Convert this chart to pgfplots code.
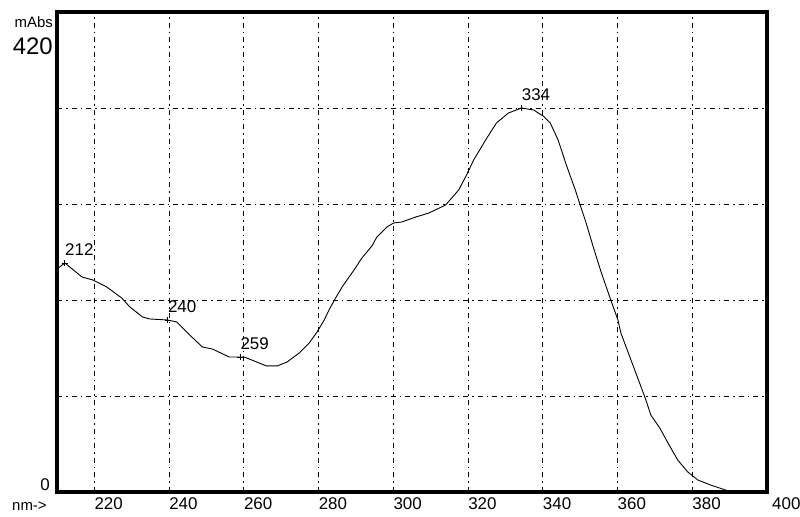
\documentclass[border=0pt]{standalone}
\usepackage{fontspec}
\setmainfont{Liberation Sans}
\usepackage{pgfplots}
\pgfplotsset{compat=1.18}
\begin{document}
\begin{tikzpicture}
\useasboundingbox (0bp,0bp) rectangle (800bp,517bp);
\begin{axis}[
  at={(57bp,25bp)}, anchor=south west,
  width=710bp, height=480bp, scale only axis,
  xmin=210, xmax=400, ymin=0, ymax=420,
  xtick={220,240,...,380},
  ytick={84,168,252,336},
  yticklabels={},
  major tick length=0pt,
  grid=major,
  grid style={black, line width=0.8bp, dash pattern=on 5bp off 4bp on 1.5bp off 4bp},
  axis line style={line width=3.2bp},
  /pgf/number format/assume math mode=true,
  xticklabel style={anchor=north west, inner sep=0pt, yshift=-5bp, font=\fontsize{17}{17}\selectfont},
  extra x ticks={400},
  extra x tick style={grid=none, xticklabel style={xshift=5bp}},
  clip=false,
]
\addplot[black, line width=0.9bp] coordinates {
(210.0,195.1) (212.1,200.4) (216.7,188.1) (219.6,185.5) (223.3,179.4)
(227.3,169.8) (229.5,161.9) (232.9,153.1) (234.8,151.4) (239.6,150.5)
(242.0,148.8) (245.5,137.4) (248.9,126.9) (251.6,125.1) (256.1,118.1)
(258.8,118.1) (260.1,118.1) (262.8,114.6) (266.0,110.3) (268.9,110.3)
(271.6,113.8) (274.8,121.6) (277.5,130.4) (279.6,140.0) (281.5,150.5)
(282.8,159.3) (284.7,170.6) (286.3,179.4) (289.5,194.3) (291.6,204.8)
(294.3,215.4) (295.6,223.1) (298.3,231.9) (300.1,235.4) (302.3,236.3)
(306.0,240.6) (309.5,244.1) (314.0,251.1) (317.5,264.3) (319.6,277.4)
(321.5,290.5) (324.7,308.0) (327.6,322.9) (330.8,331.6) (334.3,336.0)
(337.5,334.3) (340.1,329.0) (342.0,322.9) (344.1,308.0) (346.3,286.1)
(348.7,264.3) (350.0,251.1) (351.6,235.4) (353.5,214.4) (355.6,192.5)
(358.0,169.8) (360.1,150.5) (360.9,139.1) (363.6,115.5) (366.3,91.9)
(367.6,80.5) (368.9,67.4) (371.3,56.0) (373.5,42.9) (376.1,28.0)
(378.8,17.5) (381.5,10.5) (384.9,6.1) (388.9,1.75) (390.0,0)
};
\addplot[black, only marks, mark=+, mark size=3bp, mark options={line width=0.8bp},
  nodes near coords, point meta=explicit symbolic,
  nodes near coords style={anchor=south west, inner sep=0pt, yshift=7bp, font=\fontsize{17}{17}\selectfont}]
coordinates {
(212.1,200.4) [212]
(239.6,150.5) [240]
(259.0,118.1) [259]
(334.3,336.0) [334]
};
\end{axis}
\node[anchor=base east, inner sep=0pt, font=\fontsize{15}{15}\selectfont] at (53bp,489bp) {mAbs};
\node[anchor=base east, inner sep=0pt, font=\fontsize{24}{24}\selectfont] at (53bp,462bp) {420};
\node[anchor=base east, inner sep=0pt, font=\fontsize{17}{17}\selectfont] at (50bp,27bp) {0};
\node[anchor=base west, inner sep=0pt, font=\fontsize{15}{15}\selectfont] at (12bp,7bp) {nm->};
\end{tikzpicture}
\end{document}
